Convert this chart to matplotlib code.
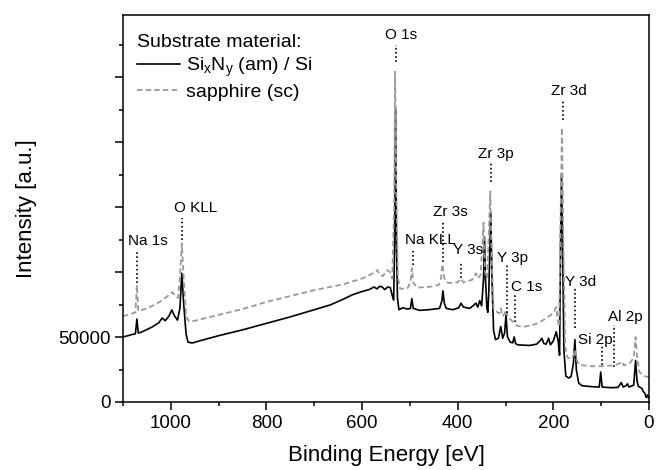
import matplotlib
matplotlib.use('Agg')
import matplotlib.pyplot as plt
from matplotlib.ticker import MultipleLocator, FixedFormatter, FixedLocator

plt.rcParams['font.family'] = ['Liberation Sans', 'DejaVu Sans']
plt.rcParams['mathtext.fontset'] = 'custom'
plt.rcParams['mathtext.rm'] = 'Liberation Sans'

# Si_xN_y (am) / Si spectrum: binding energy [eV], intensity
sin_energy = [1100, 1090, 1080, 1074, 1071, 1068, 1060, 1040, 1025, 1018, 1012, 1004, 998, 992,
              986, 981, 977, 973, 968, 964, 955, 940, 900, 850, 800, 750, 700, 667, 640, 620,
              600, 585, 575, 569, 563, 558, 553, 546, 541, 537, 534, 532, 530, 528, 526, 523,
              515, 505, 499, 496, 493, 480, 460, 438, 433, 431, 428, 424, 410, 398, 393, 388,
              375, 368, 362, 358, 354, 350, 346, 344, 342, 339, 337, 335, 331, 328, 325, 321,
              315, 310, 306, 302, 299, 296, 290, 285, 282, 279, 275, 250, 235, 228, 224, 220,
              215, 210, 206, 200, 194, 190, 187, 185, 183, 181, 178, 174, 168, 163, 158, 155,
              152, 147, 140, 120, 104, 101, 98, 80, 65, 58, 54, 48, 45, 42, 32, 28, 25, 22,
              15, 12, 9, 6, 3, 1]
sin_counts = [50000, 51000, 52000, 52500, 63800, 53000, 54000, 57500, 61000, 64600, 62500, 66000,
              70800, 66000, 63000, 72000, 99000, 75000, 52000, 46000, 45400, 47000, 51000, 55500,
              60500, 65500, 71000, 74600, 79000, 82500, 85000, 86500, 88500, 87000, 89000, 88500,
              86500, 88500, 88000, 82000, 78500, 120000, 226000, 120000, 80000, 71000, 72500,
              71500, 72000, 79500, 72000, 70500, 71000, 72000, 78000, 85500, 76000, 72000, 71000,
              72500, 76000, 73000, 72000, 74000, 76000, 73000, 78000, 74000, 95000, 127000, 95000,
              72000, 69000, 85000, 146000, 90000, 55000, 48000, 49000, 58000, 49000, 53000, 67000,
              50000, 46000, 45500, 50000, 45000, 44000, 43500, 44500, 47000, 49000, 45000, 44500,
              49000, 44000, 47000, 54000, 47000, 36000, 120000, 175000, 130000, 40000, 20000,
              18500, 19500, 30000, 48000, 25000, 14500, 12500, 11800, 11500, 23000, 11500, 11000,
              11200, 15000, 11500, 12500, 14000, 11500, 13000, 32000, 16000, 12000, 10500, 8000,
              7000, 3500, 5500, 3000]

# sapphire (sc) spectrum
sap_energy = [1100, 1085, 1074, 1071, 1068, 1050, 1030, 1015, 1005, 997, 990, 985, 981, 977, 973,
              968, 962, 950, 900, 850, 800, 750, 700, 667, 640, 600, 580, 568, 563, 556, 548, 542,
              537, 533, 531, 528, 525, 520, 505, 499, 496, 493, 485, 460, 440, 435, 432, 428, 420,
              400, 394, 388, 370, 362, 358, 352, 346, 343, 339, 336, 332, 329, 325, 320, 313, 310,
              306, 302, 299, 295, 288, 283, 275, 260, 245, 230, 215, 205, 198, 194, 191, 188, 185,
              182, 179, 175, 170, 162, 158, 155, 152, 146, 120, 100, 80, 70, 60, 56, 52, 40, 32,
              28, 25, 20, 10, 0]
sap_counts = [66000, 67500, 69000, 90000, 70000, 72000, 75500, 79000, 82000, 84600, 81000, 80000,
              95000, 122000, 95000, 66000, 62000, 62500, 67000, 71500, 77000, 81500, 86000, 88500,
              90500, 95000, 98500, 101500, 97500, 97000, 101500, 100000, 95000, 150000, 254000,
              150000, 95000, 87000, 87500, 92000, 103000, 92000, 88000, 88500, 90000, 95000,
              106000, 95000, 91500, 92000, 95000, 92000, 94000, 99000, 95000, 98000, 138000,
              100000, 95000, 120000, 162000, 110000, 72000, 70000, 68000, 72000, 66000, 68000,
              71000, 65000, 63000, 61000, 58500, 58000, 59000, 61000, 64500, 67000, 70000, 73000,
              64000, 58000, 140000, 211000, 120000, 42000, 34000, 33000, 36000, 40000, 33000,
              28500, 27500, 27500, 28000, 28500, 30000, 31000, 28000, 30000, 34000, 50000, 35000,
              23000, 20000, 19000]

# peak labels: name, peak position, dotted line (top, bottom), label position (x, y)
peak_names = ['Na 1s', 'O KLL', 'O 1s', 'Na KLL', 'Zr 3s', 'Y 3s', 'Zr 3p', 'Y 3p', 'C 1s',
              'Zr 3d', 'Y 3d', 'Si 2p', 'Al 2p']
peak_pos = [1071, 977, 529, 494, 431, 393, 330, 297, 280, 180, 155, 98, 73]
line_top = [117000, 141500, 274600, 117000, 138500, 107700, 184600, 105400, 82300, 232300,
            87700, 43800, 59200]
line_bot = [91500, 124600, 261500, 105400, 107700, 95400, 169200, 68500, 61500, 217000, 56900,
            28500, 26900]
label_x = [1048, 949, 519, 458, 416, 379, 320, 286, 255, 167, 144, 113, 50]
label_y = [123800, 149200, 282300, 124600, 146200, 116900, 190800, 110800, 88500, 239200, 92300,
           47700, 65400]

fig = plt.figure(figsize=(6.56, 4.70), dpi=100)
ax = fig.add_axes([123/656, 1 - 402/470, 526/656, 387/470])

ax.plot(sin_energy, sin_counts, color='black', lw=1.2, label=r'Si$\mathregular{_x}$N$\mathregular{_y}$ (am) / Si')
ax.plot(sap_energy, sap_counts, color='#999999', lw=1.3, linestyle=(0, (3, 1.8)), label='sapphire (sc)')

for name, xp, t, b, lx, ly in zip(peak_names, peak_pos, line_top, line_bot, label_x, label_y):
    ax.plot([xp, xp], [b, t], color='black', lw=1.2, linestyle=(0, (1, 1.5)))
    ax.text(lx, ly, name, ha='center', va='center', fontsize=11)

ax.set_xlim(1100, 0)
ax.set_ylim(0, 297700)
ax.xaxis.set_major_locator(MultipleLocator(200))
ax.xaxis.set_minor_locator(MultipleLocator(100))
ax.yaxis.set_major_locator(FixedLocator([0, 50000, 100000, 150000, 200000, 250000]))
ax.yaxis.set_major_formatter(FixedFormatter(['0', '50000', '', '', '', '']))
ax.yaxis.set_minor_locator(MultipleLocator(25000))
ax.tick_params(which='major', direction='out', length=5.5, width=1.1, labelsize=13.5)
ax.tick_params(which='minor', direction='out', length=3.2, width=1.1)
for s in ax.spines.values():
    s.set_linewidth(1.1)

ax.set_xlabel('Binding Energy [eV]', fontsize=16, labelpad=10)
ax.set_ylabel('Intensity [a.u.]', fontsize=16, labelpad=15)

leg = ax.legend(loc='upper left', bbox_to_anchor=(0.02, 0.962), frameon=False, fontsize=14,
                title='Substrate material:', title_fontsize=14, alignment='left',
                handlelength=2.2, handletextpad=0.3, labelspacing=0.25, borderpad=0.2,
                borderaxespad=0)

fig.savefig('out.png', dpi=100)
